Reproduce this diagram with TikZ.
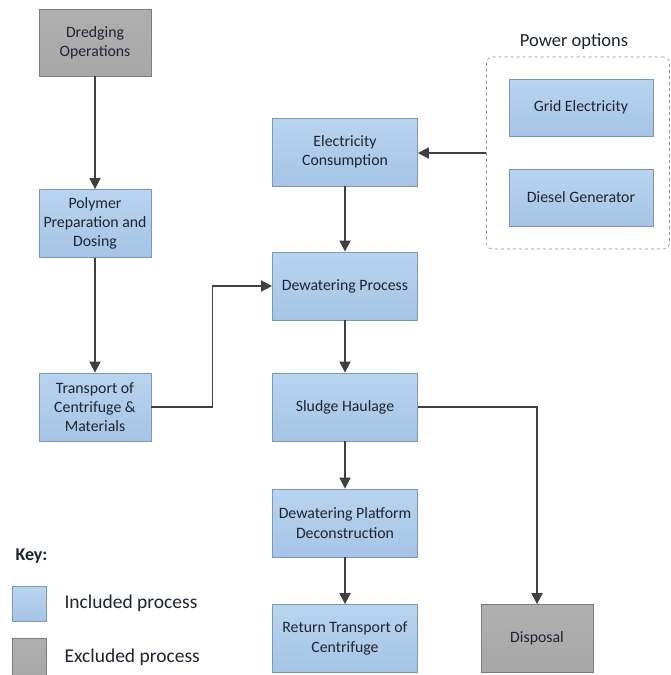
\documentclass[tikz,border=0pt]{standalone}
\usepackage{fontspec}
\setmainfont{Carlito}
\usetikzlibrary{arrows.meta,positioning}
\definecolor{ProcBlue}{HTML}{B9D4EF}
\definecolor{ProcBlueDk}{HTML}{A6C4E6}
\definecolor{ProcEdge}{HTML}{7F97B6}
\definecolor{ExclGrey}{HTML}{A8A8A8}
\definecolor{ExclEdge}{HTML}{7C7C7C}
\definecolor{LineGrey}{HTML}{404040}
\definecolor{TextDk}{HTML}{1E2430}

\begin{document}
\begin{tikzpicture}[x=1pt,y=-1pt,font=\fontsize{15.8}{19.3}\selectfont,text=TextDk,
  proc/.style={draw=ProcEdge,line width=0.8pt,top color=ProcBlue,bottom color=ProcBlueDk,align=center,minimum width=#1,minimum height=68pt,inner sep=2pt},
  proc/.default=145pt,
  excl/.style={proc=#1,draw=ExclEdge,top color=ExclGrey!92,bottom color=ExclGrey},
  excl/.default=112pt,
  flow/.style={draw=LineGrey,line width=1.8pt,-{Triangle[length=11pt,width=11pt]}}]
  \useasboundingbox (0,0) rectangle (670,675);
  % left column
  \node[excl=112pt,minimum height=67pt] (dredge) at (95,42.5) {Dredging\\Operations};
  \node[proc=112pt] (polymer) at (95,223.5) {Polymer\\Preparation and\\Dosing};
  \node[proc=112pt] (transport) at (95,407) {Transport of\\Centrifuge \&\\Materials};
  % main column
  \node[proc] (elec) at (345,152) {Electricity\\Consumption};
  \node[proc] (dewater) at (345,286) {Dewatering Process};
  \node[proc] (sludge) at (345,407) {Sludge Haulage};
  \node[proc] (decon) at (345,523) {Dewatering Platform\\Deconstruction};
  \node[proc] (ret) at (345,638.5) {Return Transport of\\Centrifuge};
  \node[excl] (disposal) at (537,638.5) {Disposal};
  % power options
  \node[draw=black!45,dashed,line width=0.6pt,rounded corners=6pt,minimum width=183pt,minimum height=192pt] (power) at (578,153) {};
  \node[font=\fontsize{18.5}{20}\selectfont] (powerlbl) at (574,42) {Power options};
  \node[proc=144pt,minimum height=57pt] (grid) at (581,107.5) {Grid Electricity};
  \node[proc=144pt,minimum height=57pt] (diesel) at (581,197.5) {Diesel Generator};
  % connectors
  \foreach \a/\b in {dredge/polymer,polymer/transport,elec/dewater,dewater/sludge,sludge/decon,decon/ret}{\draw[flow] (\a) -- (\b);}
  \draw[flow] (power.west) -- (elec.east |- power.west);
  \draw[flow] (transport.east) -- ++(61,0) |- (dewater.west);
  \draw[flow] (sludge.east) -| (disposal.north);
  % key
  \node[font=\fontsize{18}{20}\selectfont\bfseries,anchor=west] (key) at (12,556) {Key:};
  \node[proc=34pt,minimum height=35pt] (keyinc) at (29,603.5) {};
  \node[excl=34pt,minimum height=37pt] (keyexc) at (29,656.5) {};
  \node[anchor=west,font=\fontsize{19.5}{21}\selectfont] (incl) at (61,603.5) {Included process};
  \node[anchor=west,font=\fontsize{19.5}{21}\selectfont] (exclt) at (61,657) {Excluded process};
\end{tikzpicture}
\end{document}
